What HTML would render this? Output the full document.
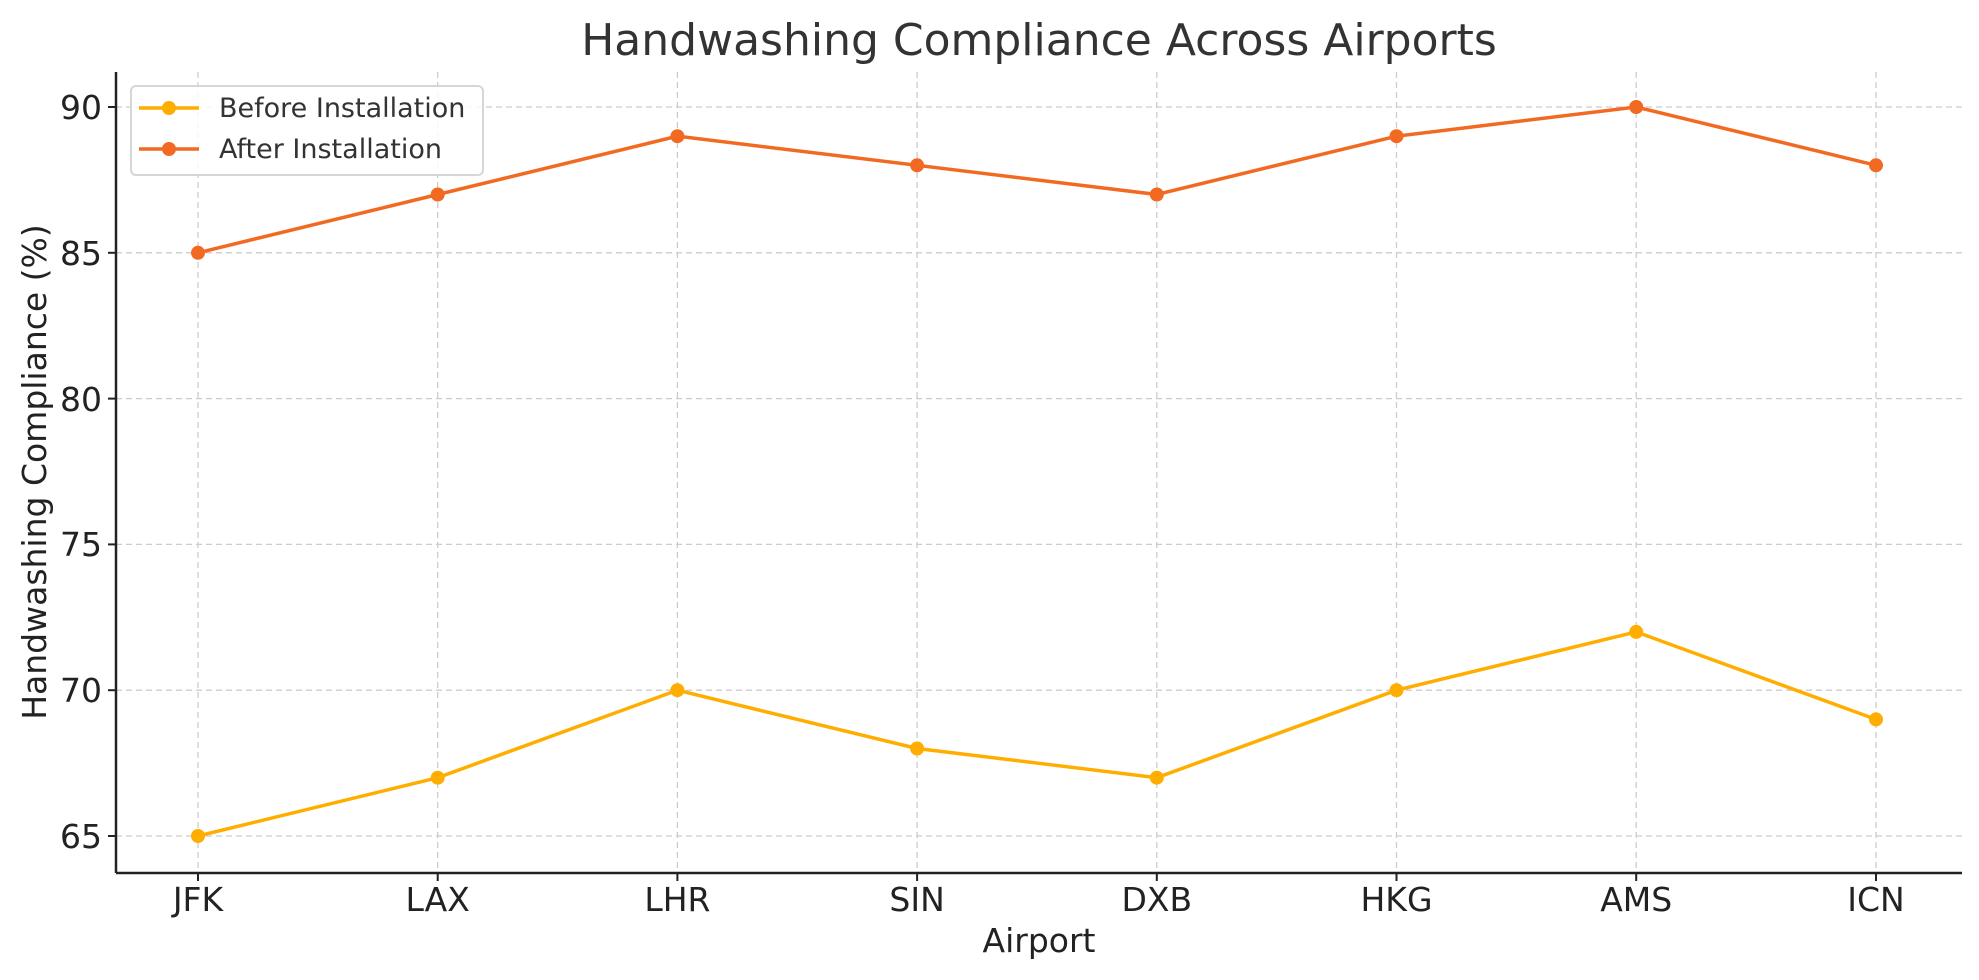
<!DOCTYPE html>
<html><head><meta charset="utf-8"><style>body{margin:0;background:#fff}svg{display:block}</style></head><body>
<svg width="1979" height="980" xmlns="http://www.w3.org/2000/svg" font-family="'DejaVu Sans','Liberation Sans',sans-serif">
<rect width="1979" height="980" fill="#fff"/>
<text x="1039" y="55" font-size="44" fill="#333" text-anchor="middle">Handwashing Compliance Across Airports</text>
<g stroke="#ccc" stroke-width="1.3" stroke-dasharray="6,4">
<line x1="116" x2="1962" y1="836" y2="836"/><line x1="116" x2="1962" y1="690.2" y2="690.2"/><line x1="116" x2="1962" y1="544.4" y2="544.4"/><line x1="116" x2="1962" y1="398.6" y2="398.6"/><line x1="116" x2="1962" y1="252.8" y2="252.8"/><line x1="116" x2="1962" y1="107" y2="107"/>
<line y1="72" y2="873" x1="198" x2="198"/><line y1="72" y2="873" x1="437.7" x2="437.7"/><line y1="72" y2="873" x1="677.4" x2="677.4"/><line y1="72" y2="873" x1="917.1" x2="917.1"/><line y1="72" y2="873" x1="1156.8" x2="1156.8"/><line y1="72" y2="873" x1="1396.5" x2="1396.5"/><line y1="72" y2="873" x1="1636.2" x2="1636.2"/><line y1="72" y2="873" x1="1876" x2="1876"/>
</g>
<g stroke="#222" stroke-width="2.5"><line x1="116" y1="72" x2="116" y2="873"/><line x1="116" y1="873" x2="1962" y2="873"/></g>
<g stroke="#222" stroke-width="2">
<line x1="108" x2="116" y1="836" y2="836"/><line x1="108" x2="116" y1="690.2" y2="690.2"/><line x1="108" x2="116" y1="544.4" y2="544.4"/><line x1="108" x2="116" y1="398.6" y2="398.6"/><line x1="108" x2="116" y1="252.8" y2="252.8"/><line x1="108" x2="116" y1="107" y2="107"/>
<line y1="873" y2="881" x1="198" x2="198"/><line y1="873" y2="881" x1="437.7" x2="437.7"/><line y1="873" y2="881" x1="677.4" x2="677.4"/><line y1="873" y2="881" x1="917.1" x2="917.1"/><line y1="873" y2="881" x1="1156.8" x2="1156.8"/><line y1="873" y2="881" x1="1396.5" x2="1396.5"/><line y1="873" y2="881" x1="1636.2" x2="1636.2"/><line y1="873" y2="881" x1="1876" x2="1876"/>
</g>
<g font-size="33" fill="#222" text-anchor="end">
<text x="102" y="848">65</text><text x="102" y="702">70</text><text x="102" y="556">75</text><text x="102" y="411">80</text><text x="102" y="265">85</text><text x="102" y="119">90</text>
</g>
<g font-size="33" fill="#222" text-anchor="middle">
<text x="198" y="911">JFK</text><text x="437.7" y="911">LAX</text><text x="677.4" y="911">LHR</text><text x="917.1" y="911">SIN</text><text x="1156.8" y="911">DXB</text><text x="1396.5" y="911">HKG</text><text x="1636.2" y="911">AMS</text><text x="1876" y="911">ICN</text>
</g>
<text x="1039" y="952" font-size="33" fill="#222" text-anchor="middle">Airport</text>
<text transform="translate(46,472) rotate(-90)" font-size="33" fill="#222" text-anchor="middle">Handwashing Compliance (%)</text>
<polyline fill="none" stroke="#FFAE00" stroke-width="3.5" points="198,836 437.7,777.7 677.4,690.2 917.1,748.5 1156.8,777.7 1396.5,690.2 1636.2,631.9 1876,719.4"/>
<g fill="#FFAE00"><circle cx="198" cy="836" r="7"/><circle cx="437.7" cy="777.7" r="7"/><circle cx="677.4" cy="690.2" r="7"/><circle cx="917.1" cy="748.5" r="7"/><circle cx="1156.8" cy="777.7" r="7"/><circle cx="1396.5" cy="690.2" r="7"/><circle cx="1636.2" cy="631.9" r="7"/><circle cx="1876" cy="719.4" r="7"/></g>
<polyline fill="none" stroke="#F26A22" stroke-width="3.5" points="198,252.8 437.7,194.5 677.4,136.2 917.1,165.3 1156.8,194.5 1396.5,136.2 1636.2,107 1876,165.3"/>
<g fill="#F26A22"><circle cx="198" cy="252.8" r="7"/><circle cx="437.7" cy="194.5" r="7"/><circle cx="677.4" cy="136.2" r="7"/><circle cx="917.1" cy="165.3" r="7"/><circle cx="1156.8" cy="194.5" r="7"/><circle cx="1396.5" cy="136.2" r="7"/><circle cx="1636.2" cy="107" r="7"/><circle cx="1876" cy="165.3" r="7"/></g>
<rect x="131" y="86" width="352" height="89" rx="5" fill="#fff" fill-opacity="0.85" stroke="#d6d6d6" stroke-width="2"/>
<line x1="139" x2="199" y1="108" y2="108" stroke="#FFAE00" stroke-width="3.5"/><circle cx="169" cy="108" r="7" fill="#FFAE00"/>
<line x1="139" x2="199" y1="149" y2="149" stroke="#F26A22" stroke-width="3.5"/><circle cx="169" cy="149" r="7" fill="#F26A22"/>
<text x="219" y="117" font-size="27" fill="#333">Before Installation</text>
<text x="219" y="158" font-size="27" fill="#333">After Installation</text>
</svg>
</body></html>
